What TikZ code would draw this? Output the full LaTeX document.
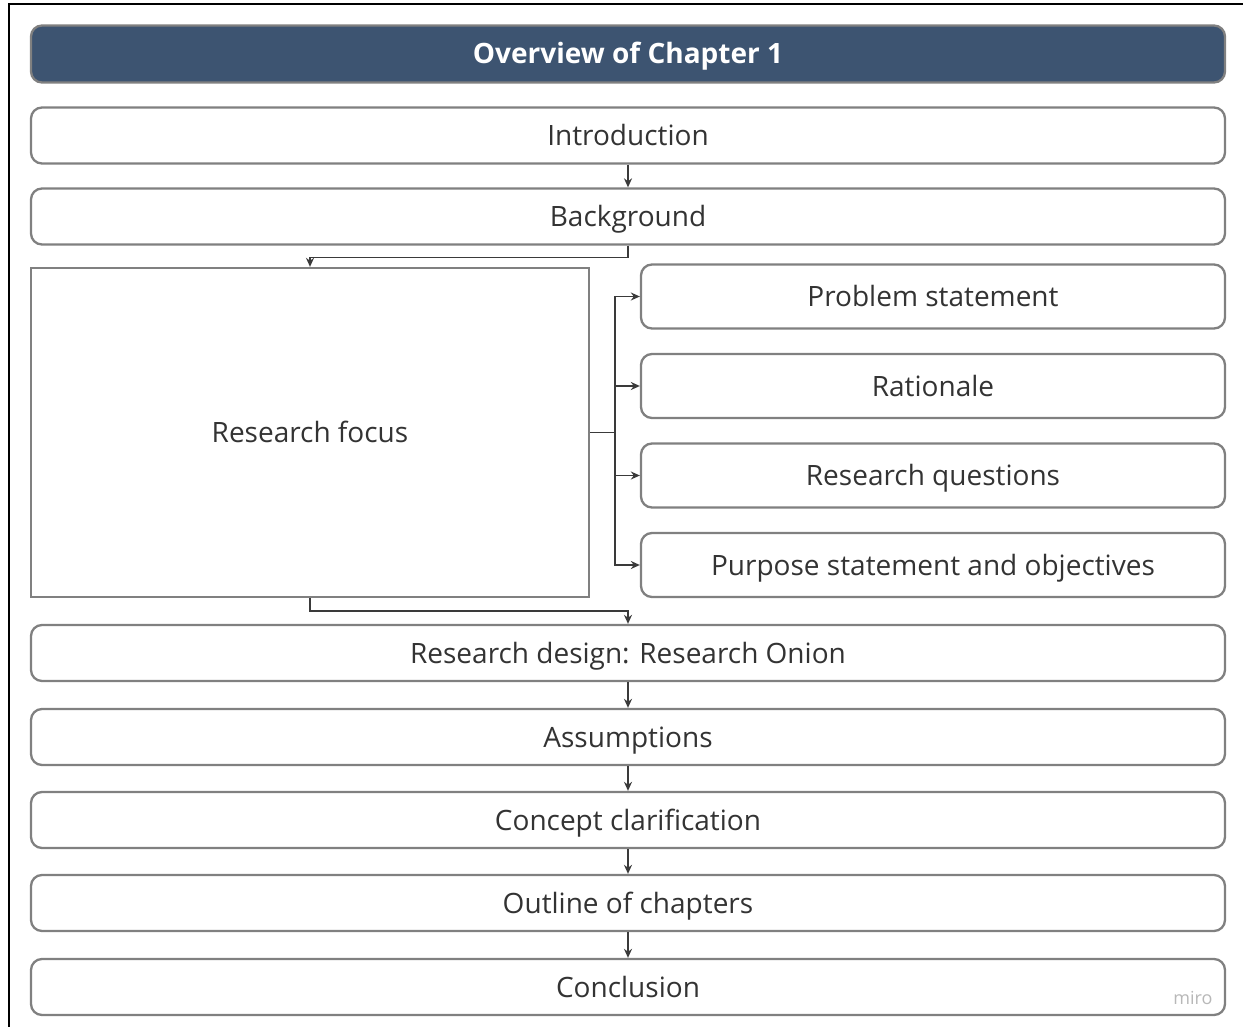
\documentclass[tikz,border=0pt]{standalone}
\usepackage{fontspec}
\setmainfont{Open Sans}
\usetikzlibrary{arrows.meta}
\definecolor{headfill}{HTML}{3D5471}
\definecolor{boxline}{HTML}{808080}
\definecolor{txt}{HTML}{333333}
\definecolor{conn}{HTML}{3A3A3A}
\begin{document}
\begin{tikzpicture}[x=1pt,y=-1pt,
  box/.style={draw=boxline, line width=2.3pt, rounded corners=11pt, fill=white,
    text=txt, font=\fontsize{28}{32}\selectfont, inner sep=0pt,
    text height=20pt, text depth=0pt},
  wide/.style={box, minimum width=1194pt, minimum height=56pt},
  side/.style={box, minimum width=584pt, minimum height=64pt},
  head/.style={wide, fill=headfill, minimum height=57pt, text=white,
    font=\fontsize{28}{32}\selectfont\bfseries},
  conn/.style={draw=conn, line width=1.6pt},
  arr/.style={conn, -{Stealth[length=9pt,width=8pt]}}]
  \useasboundingbox (0,0) rectangle (1243,1027);
  \fill[white] (0,0) rectangle (1243,1027);
  % frame
  \draw[black, line width=2pt] (1243,4) -- (9,4) -- (9,1027);

  % main column
  \node[head] (title) at (628,54) {Overview of Chapter 1};
  \node[wide] (intro) at (628,135.5) {Introduction};
  \node[wide] (bg) at (628,216.5) {Background};
  \node[box, rounded corners=0pt, minimum width=558pt, minimum height=329pt] (rf) at (310,432.5) {Research focus};

  % branches of the research focus
  \node[side] (ps) at (933,296.5) {Problem statement};
  \node[side] (ra) at (933,386) {Rationale};
  \node[side] (rq) at (933,475.5) {Research questions};
  \node[side] (po) at (933,565) {Purpose statement and objectives};

  \node[wide] (rd) at (628,653) {Research design: Research Onion};
  \node[wide] (as) at (628,737) {Assumptions};
  \node[wide] (cc) at (628,820) {Concept clarification};
  \node[wide] (oc) at (628,903) {Outline of chapters};
  \node[wide] (co) at (628,987) {Conclusion};
  \node[text=black!28, font=\fontsize{18}{20}\selectfont, anchor=east] (miro) at (1216,998) {miro};

  % connectors
  \draw[arr] (intro.south) -- (bg.north);
  \draw[arr] (bg.south) -- ++(0,12) -| (rf.north);
  \draw[conn] (rf.east) -- ++(25,0) coordinate (br);
  \draw[arr] (br) |- (ps.west);
  \draw[arr] (br) |- (ra.west);
  \draw[arr] (br) |- (rq.west);
  \draw[arr] (br) |- (po.west);
  \draw[arr] (rf.south) -- ++(0,13) -| (rd.north);
  \draw[arr] (rd.south) -- (as.north);
  \draw[arr] (as.south) -- (cc.north);
  \draw[arr] (cc.south) -- (oc.north);
  \draw[arr] (oc.south) -- (co.north);
\end{tikzpicture}
\end{document}
